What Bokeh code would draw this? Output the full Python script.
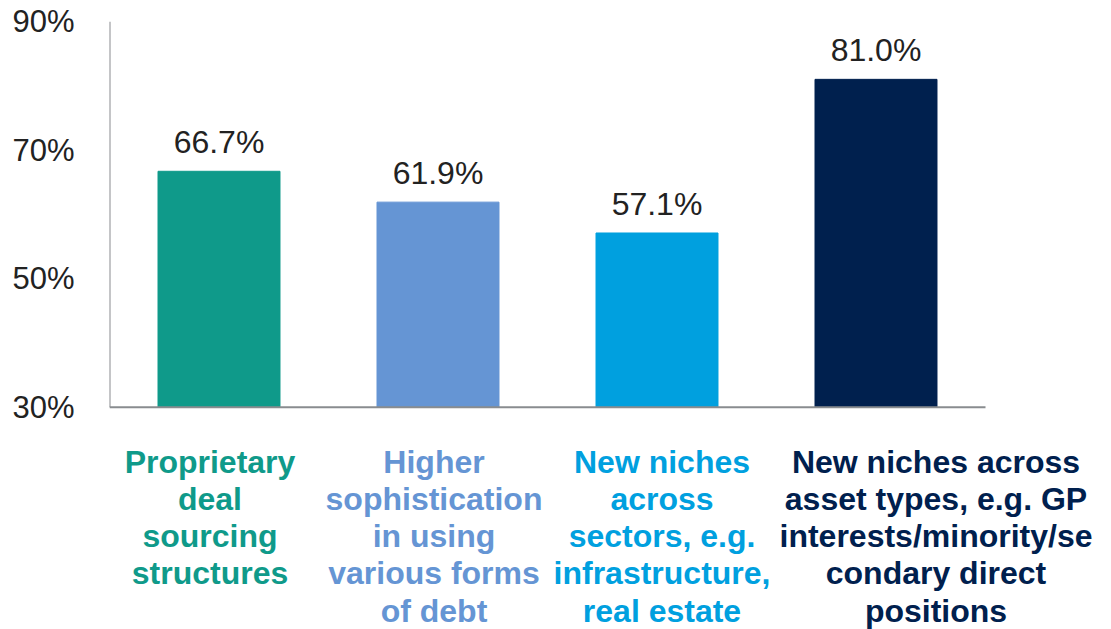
from bokeh.plotting import figure
from bokeh.models import ColumnDataSource, FixedTicker, PrintfTickFormatter, Range1d
from bokeh.embed import file_html
from bokeh.resources import INLINE
from bokeh.core.properties import value

categories = [
    "Proprietary\ndeal\nsourcing\nstructures",
    "Higher\nsophistication\nin using\nvarious forms\nof debt",
    "New niches\nacross\nsectors, e.g.\ninfrastructure,\nreal estate",
    "New niches across\nasset types, e.g. GP\ninterests/minority/se\ncondary direct\npositions",
]
values = [66.7, 61.9, 57.1, 81.0]
colors = ["#0f9a8a", "#6595d4", "#00a0df", "#00204e"]
y_ticks = [30, 50, 70, 90]

# horizontal pixel shift of each category text relative to its bar (style only)
label_dx = [-9, -4, 5, 60]

FONT = "Liberation Sans"
Y0 = 30
PX = 6.42          # pixels per percentage point
CAT_W = 219        # pixels per category
Y_BOTTOM = Y0 - 222 / PX          # frame extends below the axis for the category texts
X_RIGHT = 3.5 + 126 / CAT_W        # frame extends right so the last text is not clipped

xs = list(range(len(values)))
src = ColumnDataSource(dict(
    x=xs,
    top=values,
    color=colors,
    label=[f"{v:.1f}%" for v in values],
    ly=[v + 29 / PX for v in values],
))
cat_src = ColumnDataSource(dict(
    x=xs,
    text=categories,
    color=colors,
    dx=label_dx,
    y=[Y0 - 37 / PX] * len(xs),
))

p = figure(width=1111, height=629, output_backend="svg", toolbar_location=None,
           x_range=Range1d(-0.5, X_RIGHT), y_range=Range1d(Y_BOTTOM, 90),
           min_border_left=109, min_border_right=0, min_border_top=21,
           min_border_bottom=0)
p.outline_line_color = None
p.xgrid.visible = False
p.ygrid.visible = False
p.xaxis.visible = False

p.vbar(x="x", top="top", bottom=Y0, width=0.557, color="color", source=src)
p.text(x="x", y="ly", text="label", source=src, text_align="center",
       text_baseline="alphabetic", text_font=value(FONT), text_font_size="32px",
       text_color="#222222")
p.text(x="x", y="y", x_offset="dx", text="text", source=cat_src, text_align="center",
       text_baseline="top", text_font=value(FONT), text_font_size="32px",
       text_font_style="bold", text_color="color", text_line_height=1.03)

# axis lines drawn over the value region only
p.segment(x0=[-0.5], y0=[Y0], x1=[3.5], y1=[Y0], line_color="#898c8f", line_width=2)
p.segment(x0=[-0.5], y0=[Y0], x1=[-0.5], y1=[90], line_color="#898c8f", line_width=2)

p.yaxis.ticker = FixedTicker(ticks=y_ticks)
p.yaxis.formatter = PrintfTickFormatter(format="%d%%")
p.yaxis.major_label_text_font = FONT
p.yaxis.major_label_text_font_size = "31px"
p.yaxis.major_label_text_color = "#222222"
p.yaxis.major_tick_line_color = None
p.yaxis.minor_tick_line_color = None
p.yaxis.major_label_standoff = 29
p.yaxis.axis_line_color = None

open("out.html", "w").write(file_html(p, INLINE))
